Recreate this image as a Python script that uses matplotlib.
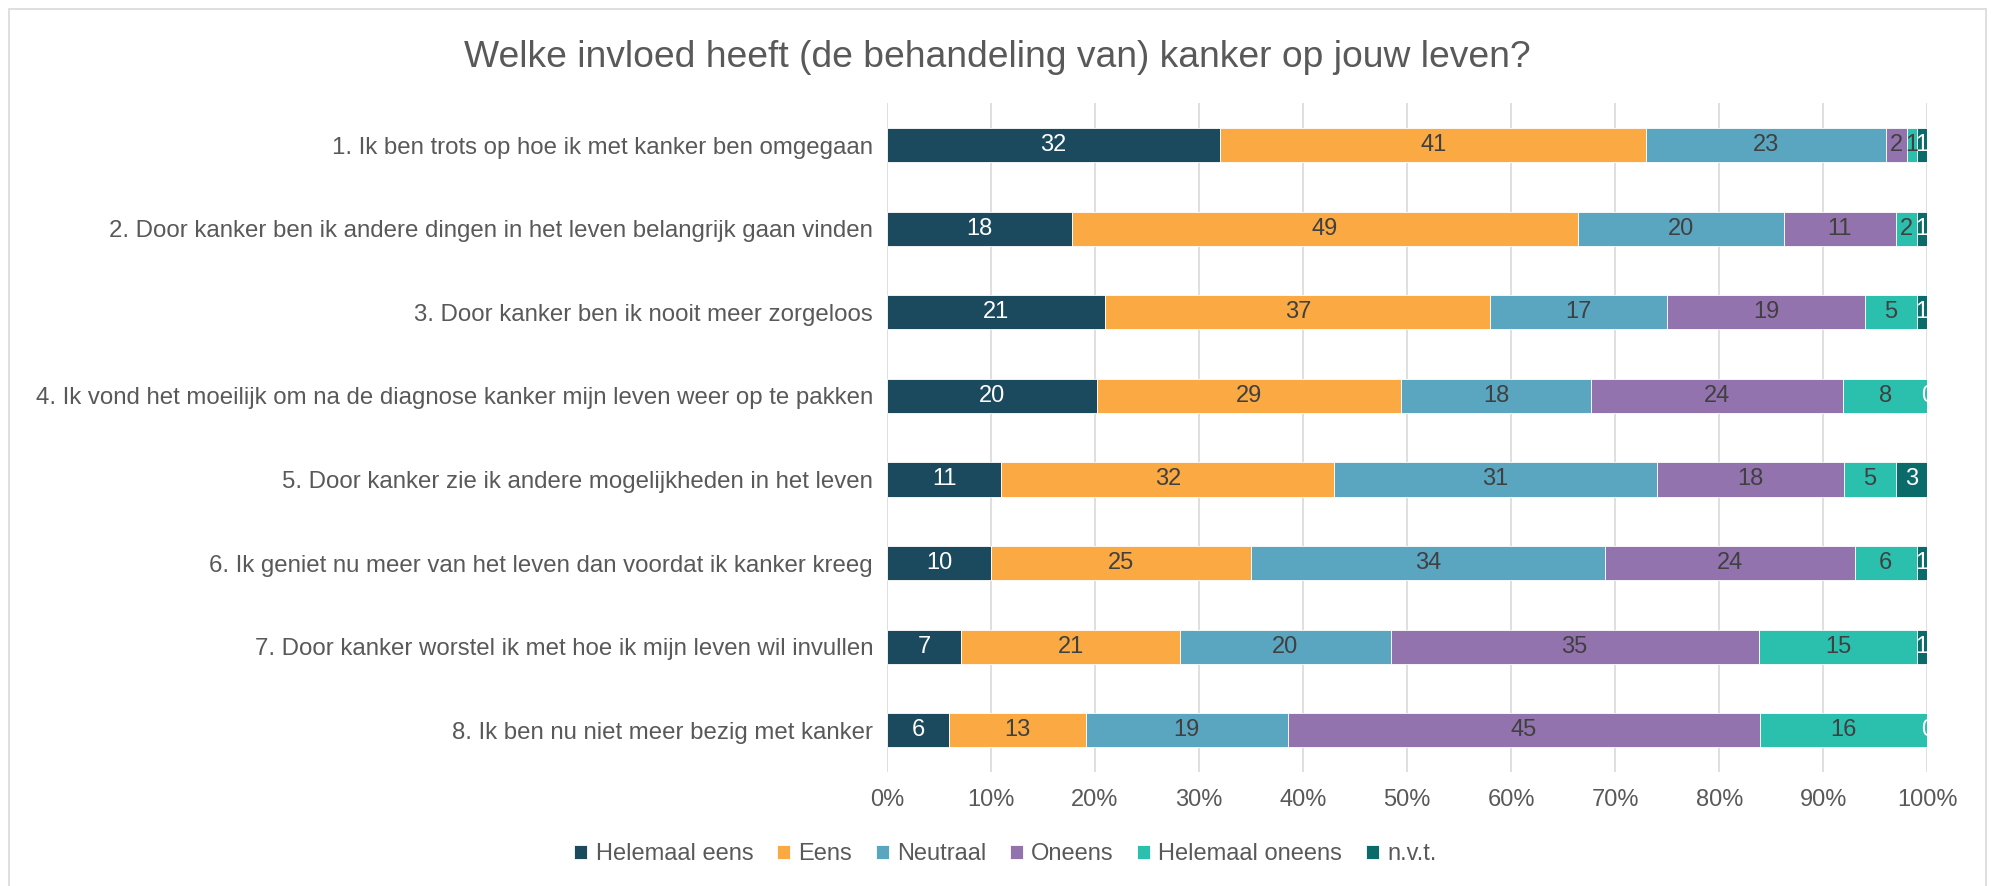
import matplotlib.pyplot as plt
import numpy as np
from matplotlib.patches import Rectangle

plt.rcParams["font.family"] = ["Liberation Sans", "DejaVu Sans"]

statements = [
    "1. Ik ben trots op hoe ik met kanker ben omgegaan",
    "2. Door kanker ben ik andere dingen in het leven belangrijk gaan vinden",
    "3. Door kanker ben ik nooit meer zorgeloos",
    "4. Ik vond het moeilijk om na de diagnose kanker mijn leven weer op te pakken",
    "5. Door kanker zie ik andere mogelijkheden in het leven",
    "6. Ik geniet nu meer van het leven dan voordat ik kanker kreeg",
    "7. Door kanker worstel ik met hoe ik mijn leven wil invullen",
    "8. Ik ben nu niet meer bezig met kanker",
]
categories = ["Helemaal eens", "Eens", "Neutraal", "Oneens", "Helemaal oneens", "n.v.t."]

helemaal_eens = [32, 17.8, 21, 20.2, 11, 10, 7.1, 6.0]
eens = [41, 48.6, 37, 29.25, 32, 25, 21.1, 13.1]
neutraal = [23, 19.8, 17, 18.25, 31, 34, 20.2, 19.4]
oneens = [2, 10.8, 19, 24.2, 18, 24, 35.4, 45.4]
helemaal_oneens = [1, 2.0, 5, 8.1, 5, 6, 15.2, 16.1]
nvt = [1, 1.0, 1, 0, 3, 1, 1.0, 0]

colors = ["#1B4A5E", "#FBA942", "#5AA5C0", "#9273AE", "#2BBFAE", "#0B6B6B"]
label_colors = ["white", "#404040", "#404040", "#404040", "#404040", "white"]
text_grey = "#595959"

series = np.array([helemaal_eens, eens, neutraal, oneens, helemaal_oneens, nvt])
totals = series.sum(axis=0)
shares = series / totals * 100

fig = plt.figure(figsize=(19.95, 8.86), dpi=100)
ax = fig.add_axes([0.4446, 0.1285, 0.5215, 0.755])

y = np.arange(len(statements))
left = np.zeros(len(statements))
for i, cat in enumerate(categories):
    ax.barh(y, shares[i], left=left, height=0.41, color=colors[i],
            edgecolor="white", linewidth=0.6, label=cat, zorder=3)
    for j in range(len(statements)):
        ax.text(left[j] + shares[i][j] / 2, y[j], "%d" % round(series[i][j]),
                ha="center", va="center", fontsize=17, color=label_colors[i],
                zorder=4, clip_on=True)
    left += shares[i]

ax.set_xlim(0, 100)
ax.set_ylim(len(statements) - 0.5, -0.5)
ax.set_yticks(y)
ax.set_yticklabels(statements, fontsize=17.3, color=text_grey)
ax.set_xticks(np.arange(0, 101, 10))
ax.set_xticklabels(["%d%%" % v for v in range(0, 101, 10)], fontsize=17, color=text_grey)
ax.tick_params(length=0, pad=10)
ax.tick_params(axis="x", pad=12)
ax.grid(axis="x", color="#D9D9D9", linewidth=1.2, zorder=0)
for s in ax.spines.values():
    s.set_visible(False)

fig.suptitle("Welke invloed heeft (de behandeling van) kanker op jouw leven?",
             x=0.5, y=0.955, fontsize=26.8, color=text_grey)

fig.legend(loc="center", bbox_to_anchor=(0.504, 0.036), ncol=6, frameon=False,
           fontsize=17, handlelength=0.55, handleheight=0.55, handletextpad=0.35,
           columnspacing=1.0, labelcolor=text_grey)

fig.patches.append(Rectangle((0.0045, -0.02), 0.991, 1.01, transform=fig.transFigure,
                             fill=False, edgecolor="#D9D9D9", linewidth=1.2))

fig.savefig("out.png", dpi=100)
